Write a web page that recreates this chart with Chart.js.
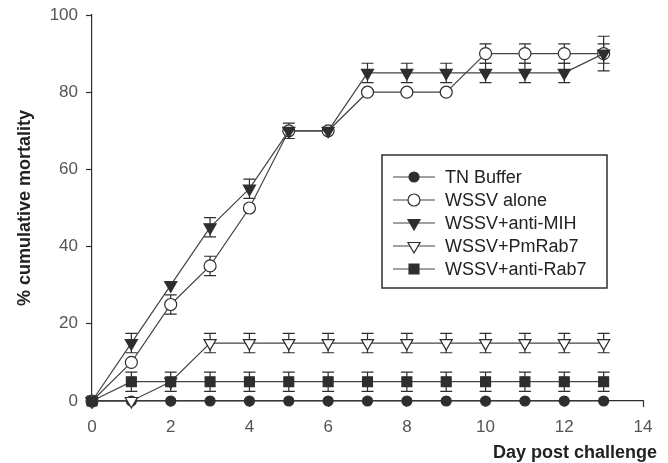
<!DOCTYPE html>
<html>
<head>
<meta charset="utf-8">
<script src="https://cdn.jsdelivr.net/npm/chart.js@4/dist/chart.umd.min.js"></script>
<style>
  html, body { margin: 0; padding: 0; background: #fff; }
  #wrap { width: 668px; height: 463px; position: relative; }
</style>
</head>
<body>
<div id="wrap"><canvas id="mortalityChart"></canvas></div>
<script>
'use strict';

const DAYS = [0, 1, 2, 3, 4, 5, 6, 7, 8, 9, 10, 11, 12, 13];
const SERIES_NAMES = ['TN Buffer', 'WSSV alone', 'WSSV+anti-MIH', 'WSSV+PmRab7', 'WSSV+anti-Rab7'];

const TN_BUFFER  = [0, 0, 0, 0, 0, 0, 0, 0, 0, 0, 0, 0, 0, 0];
const WSSV_ALONE = [0, 10, 25, 35, 50, 70, 70, 80, 80, 80, 90, 90, 90, 90];
const ANTI_MIH   = [0, 15, 30, 45, 55, 70, 70, 85, 85, 85, 85, 85, 85, 90];
const PM_RAB7    = [0, 0, 5, 15, 15, 15, 15, 15, 15, 15, 15, 15, 15, 15];
const ANTI_RAB7  = [0, 5, 5, 5, 5, 5, 5, 5, 5, 5, 5, 5, 5, 5];

// error bar half-heights (0 = no bar visible)
const ERR_TN_BUFFER  = [0, 0, 0, 0, 0, 0, 0, 0, 0, 0, 0, 0, 0, 0];
const ERR_WSSV_ALONE = [0, 0, 2.5, 2.5, 0, 0, 0, 0, 0, 0, 2.5, 2.5, 2.5, 4.5];
const ERR_ANTI_MIH   = [0, 2.5, 0, 2.5, 2.5, 2, 0, 2.5, 2.5, 2.5, 2.5, 2.5, 2.5, 2.5];
const ERR_PM_RAB7    = [0, 0, 0, 2.5, 2.5, 2.5, 2.5, 2.5, 2.5, 2.5, 2.5, 2.5, 2.5, 2.5];
const ERR_ANTI_RAB7  = [0, 2.5, 2.5, 2.5, 2.5, 2.5, 2.5, 2.5, 2.5, 2.5, 2.5, 2.5, 2.5, 2.5];

const X_TICKS = [0, 2, 4, 6, 8, 10, 12, 14];
const Y_TICKS = [0, 20, 40, 60, 80, 100];

const INK = '#2e2e2e';
const LINE = '#444';
const FONT = "'Liberation Sans', Arial, sans-serif";

const MARKERS = [
  { style: 'circle',   radius: 5,   fill: INK,   rotation: 0 },
  { style: 'circle',   radius: 6,   fill: '#fff', rotation: 0 },
  { style: 'triangle', radius: 7,   fill: INK,   rotation: 180 },
  { style: 'triangle', radius: 7,   fill: '#fff', rotation: 180 },
  { style: 'rect',     radius: 7,   fill: INK,   rotation: 0 }
];

const VALUES = [TN_BUFFER, WSSV_ALONE, ANTI_MIH, PM_RAB7, ANTI_RAB7];
const ERRORS = [ERR_TN_BUFFER, ERR_WSSV_ALONE, ERR_ANTI_MIH, ERR_PM_RAB7, ERR_ANTI_RAB7];

function drawMarker(ctx, m, x, y) {
  ctx.save();
  ctx.fillStyle = m.fill;
  ctx.strokeStyle = INK;
  ctx.lineWidth = 1.2;
  ctx.beginPath();
  if (m.style === 'circle') {
    ctx.arc(x, y, m.radius, 0, Math.PI * 2);
  } else if (m.style === 'triangle') {
    let rad = m.rotation * Math.PI / 180;
    ctx.moveTo(x + Math.sin(rad) * m.radius, y - Math.cos(rad) * m.radius);
    rad += Math.PI * 2 / 3;
    ctx.lineTo(x + Math.sin(rad) * m.radius, y - Math.cos(rad) * m.radius);
    rad += Math.PI * 2 / 3;
    ctx.lineTo(x + Math.sin(rad) * m.radius, y - Math.cos(rad) * m.radius);
    ctx.closePath();
  } else {
    const s = Math.SQRT1_2 * m.radius;
    ctx.rect(x - s, y - s, 2 * s, 2 * s);
  }
  ctx.fill();
  ctx.stroke();
  ctx.restore();
}

const errorBars = {
  id: 'errorBars',
  beforeDatasetsDraw(chart) {
    const { ctx, scales: { x, y } } = chart;
    ctx.save();
    ctx.strokeStyle = INK;
    ctx.lineWidth = 1.2;
    ERRORS.forEach((errs, i) => {
      errs.forEach((e, j) => {
        if (!e) return;
        const px = x.getPixelForValue(DAYS[j]);
        const top = y.getPixelForValue(VALUES[i][j] + e);
        const bot = y.getPixelForValue(VALUES[i][j] - e);
        ctx.beginPath();
        ctx.moveTo(px, top); ctx.lineTo(px, bot);
        ctx.moveTo(px - 6, top); ctx.lineTo(px + 6, top);
        ctx.moveTo(px - 6, bot); ctx.lineTo(px + 6, bot);
        ctx.stroke();
      });
    });
    ctx.restore();
  }
};

const boxLegend = {
  id: 'boxLegend',
  afterDraw(chart) {
    const ctx = chart.ctx;
    const left = 382, top = 155, w = 225, h = 133;
    ctx.save();
    ctx.strokeStyle = INK;
    ctx.lineWidth = 1.5;
    ctx.strokeRect(left, top, w, h);
    ctx.font = '18px ' + FONT;
    ctx.textBaseline = 'middle';
    ctx.fillStyle = '#222';
    SERIES_NAMES.forEach((name, i) => {
      const cy = top + 22 + i * 23;
      ctx.strokeStyle = LINE;
      ctx.lineWidth = 1.2;
      ctx.beginPath();
      ctx.moveTo(left + 11, cy); ctx.lineTo(left + 53, cy);
      ctx.stroke();
      drawMarker(ctx, MARKERS[i], left + 32, cy);
      ctx.fillText(name, left + 63, cy + 1);
    });
    // x axis title, right aligned past the plot edge
    ctx.font = 'bold 18px ' + FONT;
    ctx.textAlign = 'right';
    ctx.textBaseline = 'alphabetic';
    ctx.fillStyle = '#222';
    ctx.fillText('Day post challenge', 657, 458);
    ctx.restore();
  }
};

const datasets = SERIES_NAMES.map((name, i) => ({
  label: name,
  data: DAYS.map((d, j) => ({ x: d, y: VALUES[i][j] })),
  borderColor: LINE,
  borderWidth: 1.2,
  pointStyle: MARKERS[i].style,
  pointRadius: MARKERS[i].radius,
  pointRotation: MARKERS[i].rotation,
  pointBackgroundColor: MARKERS[i].fill,
  pointBorderColor: INK,
  pointBorderWidth: 1.2,
  clip: false,
  order: 5 - i
}));

new Chart(document.getElementById('mortalityChart'), {
  type: 'line',
  data: { datasets },
  plugins: [errorBars, boxLegend],
  options: {
    responsive: true,
    maintainAspectRatio: false,
    animation: false,
    layout: { padding: { top: 15, right: 25, left: 0, bottom: 0 } },
    plugins: { legend: { display: false }, tooltip: { enabled: false } },
    scales: {
      x: {
        type: 'linear',
        min: 0, max: 14,
        afterBuildTicks: s => { s.ticks = X_TICKS.map(v => ({ value: v })); },
        afterFit: s => { s.height = 62; },
        grid: { drawOnChartArea: false, tickLength: 6, tickColor: INK, tickWidth: 1.2 },
        border: { color: INK, width: 1.2 },
        ticks: { color: '#555', font: { family: FONT, size: 17 }, padding: 10, maxRotation: 0 }
      },
      y: {
        min: 0, max: 100,
        afterBuildTicks: s => { s.ticks = Y_TICKS.map(v => ({ value: v })); },
        afterFit: s => { s.width = 92; s.paddingTop = 5; s.paddingBottom = 5; },
        grid: { drawOnChartArea: false, tickLength: 6, tickColor: INK, tickWidth: 1.2 },
        border: { color: INK, width: 1.2 },
        ticks: { color: '#555', font: { family: FONT, size: 17 }, padding: 8 },
        title: {
          display: true,
          text: '% cumulative mortality',
          color: '#222',
          font: { family: FONT, size: 18, weight: 'bold' },
          padding: { top: 14, bottom: 0 }
        }
      }
    }
  }
});
</script>
</body>
</html>
